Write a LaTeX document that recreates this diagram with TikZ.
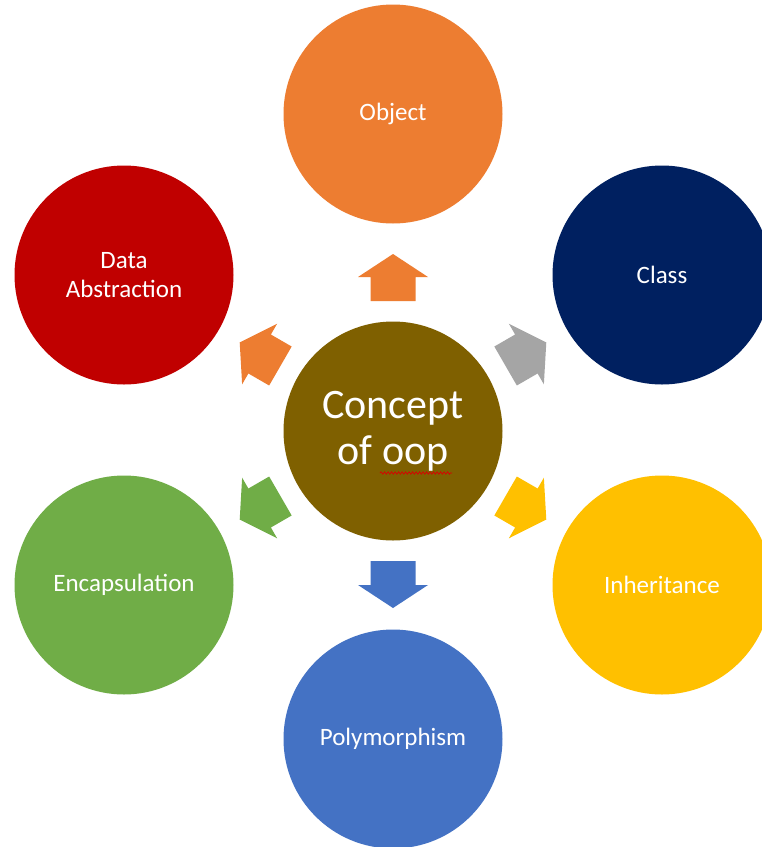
\documentclass[tikz,border=0pt]{standalone}
\usepackage{fontspec}
\setmainfont{Carlito}
\usetikzlibrary{decorations.pathmorphing}
\definecolor{cObj}{HTML}{ED7D31}
\definecolor{cCls}{HTML}{002060}
\definecolor{cInh}{HTML}{FFC000}
\definecolor{cPoly}{HTML}{4472C4}
\definecolor{cEnc}{HTML}{70AD47}
\definecolor{cDat}{HTML}{C00000}
\definecolor{cCtr}{HTML}{7F6000}
\definecolor{cGray}{HTML}{A5A5A5}
\begin{document}
\begin{tikzpicture}[x=1pt,y=-1pt,
  bubble/.style={circle, minimum size=219pt, inner sep=0pt, outer sep=0pt,
    text=white, font=\fontsize{25}{29}\selectfont, align=center},
  centerbubble/.style={bubble, fill=cCtr, font=\fontsize{42}{46}\selectfont}]
\useasboundingbox (0,0) rectangle (762,847);
\fill[white] (0,0) rectangle (762,847);
\node[bubble, fill=cObj] (obj) at (393,114) {\raisebox{-4pt}{Object}};
\node[bubble, fill=cCls] (cls) at (662,275) {Class};
\node[bubble, fill=cInh] (inh) at (662,585) {Inheritance};
\node[bubble, fill=cPoly] (poly) at (393,739) {Polymorphism};
\node[bubble, fill=cEnc] (enc) at (124,585) {Encapsulation};
\node[bubble, fill=cDat] (dat) at (124,275) {Data\\Abstraction};
\node[centerbubble] (ctr) at (393,431) {Concept\\of oop};
\draw[red!85!black, line width=0.7pt, decorate,
  decoration={snake, amplitude=1.2pt, segment length=3.5pt}]
  ([shift={(-13,42)}]ctr.center) -- ([shift={(59,42)}]ctr.center);
\foreach \ang/\col in {0/cObj, -60/cGray, -120/cInh, 180/cPoly, 120/cEnc, 60/cObj}
  \fill[\col, shift={(ctr.center)}, rotate=\ang]
    (-22.5,-130) -- (-22.5,-154) -- (-35,-154) -- (0,-177) -- (35,-154)
    -- (22.5,-154) -- (22.5,-130) -- cycle;
\end{tikzpicture}
\end{document}
